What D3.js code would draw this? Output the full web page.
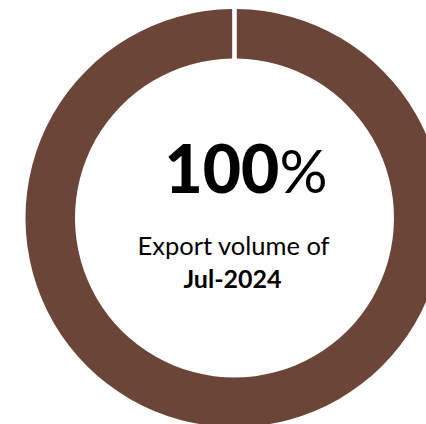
<!DOCTYPE html>
<html>
<head>
<meta charset="utf-8">
<script src="https://cdn.jsdelivr.net/npm/d3@7"></script>
<style>
  html, body { margin: 0; padding: 0; background: #ffffff; }
  svg { display: block; }
</style>
</head>
<body>
<div id="chart"></div>
<script>
// Data
const categories = ["Jul-2024"];
const shareValues = [100];
const captionLines = ["Export volume of", "Jul-2024"];

const width = 426, height = 424;
const cx = 234.5, cy = 218;
const outerR = 209, innerR = 159.5;
const color = "#6b4537";

const svg = d3.select("#chart").append("svg")
  .attr("width", width).attr("height", height);

const g = svg.append("g").attr("transform", `translate(${cx},${cy})`);

// scale from share (%) to angle; tiny gap at the top like the reference
const angle = d3.scaleLinear().domain([0, 100]).range([0, 2 * Math.PI - 1e-4]);

const arc = d3.arc()
  .innerRadius(innerR)
  .outerRadius(outerR)
  .padRadius(100)
  .padAngle(0.046);

g.selectAll("path.slice")
  .data(categories.map((c, i) => ({ cat: c, value: shareValues[i] })))
  .join("path")
  .attr("class", "slice")
  .attr("fill", color)
  .attr("d", d => arc({ startAngle: angle(0), endAngle: angle(d.value) }));

// Center label
const big = svg.append("text")
  .attr("x", 246).attr("y", 193)
  .attr("text-anchor", "middle")
  .attr("font-family", "Lato, 'Open Sans', sans-serif")
  .attr("fill", "#000");
big.append("tspan")
  .attr("font-size", 66).attr("font-weight", 900)
  .text(String(shareValues[0]));
big.append("tspan")
  .attr("font-size", 60).attr("font-weight", 400)
  .text("%");

svg.append("text")
  .attr("x", 233.5).attr("y", 255)
  .attr("text-anchor", "middle")
  .attr("font-family", "Lato, 'Open Sans', sans-serif")
  .attr("font-size", 25.5)
  .attr("fill", "#000")
  .text(captionLines[0]);

svg.append("text")
  .attr("x", 232.5).attr("y", 288)
  .attr("text-anchor", "middle")
  .attr("font-family", "Lato, 'Open Sans', sans-serif")
  .attr("font-size", 25)
  .attr("font-weight", 700)
  .attr("fill", "#000")
  .text(captionLines[1]);
</script>
</body>
</html>
